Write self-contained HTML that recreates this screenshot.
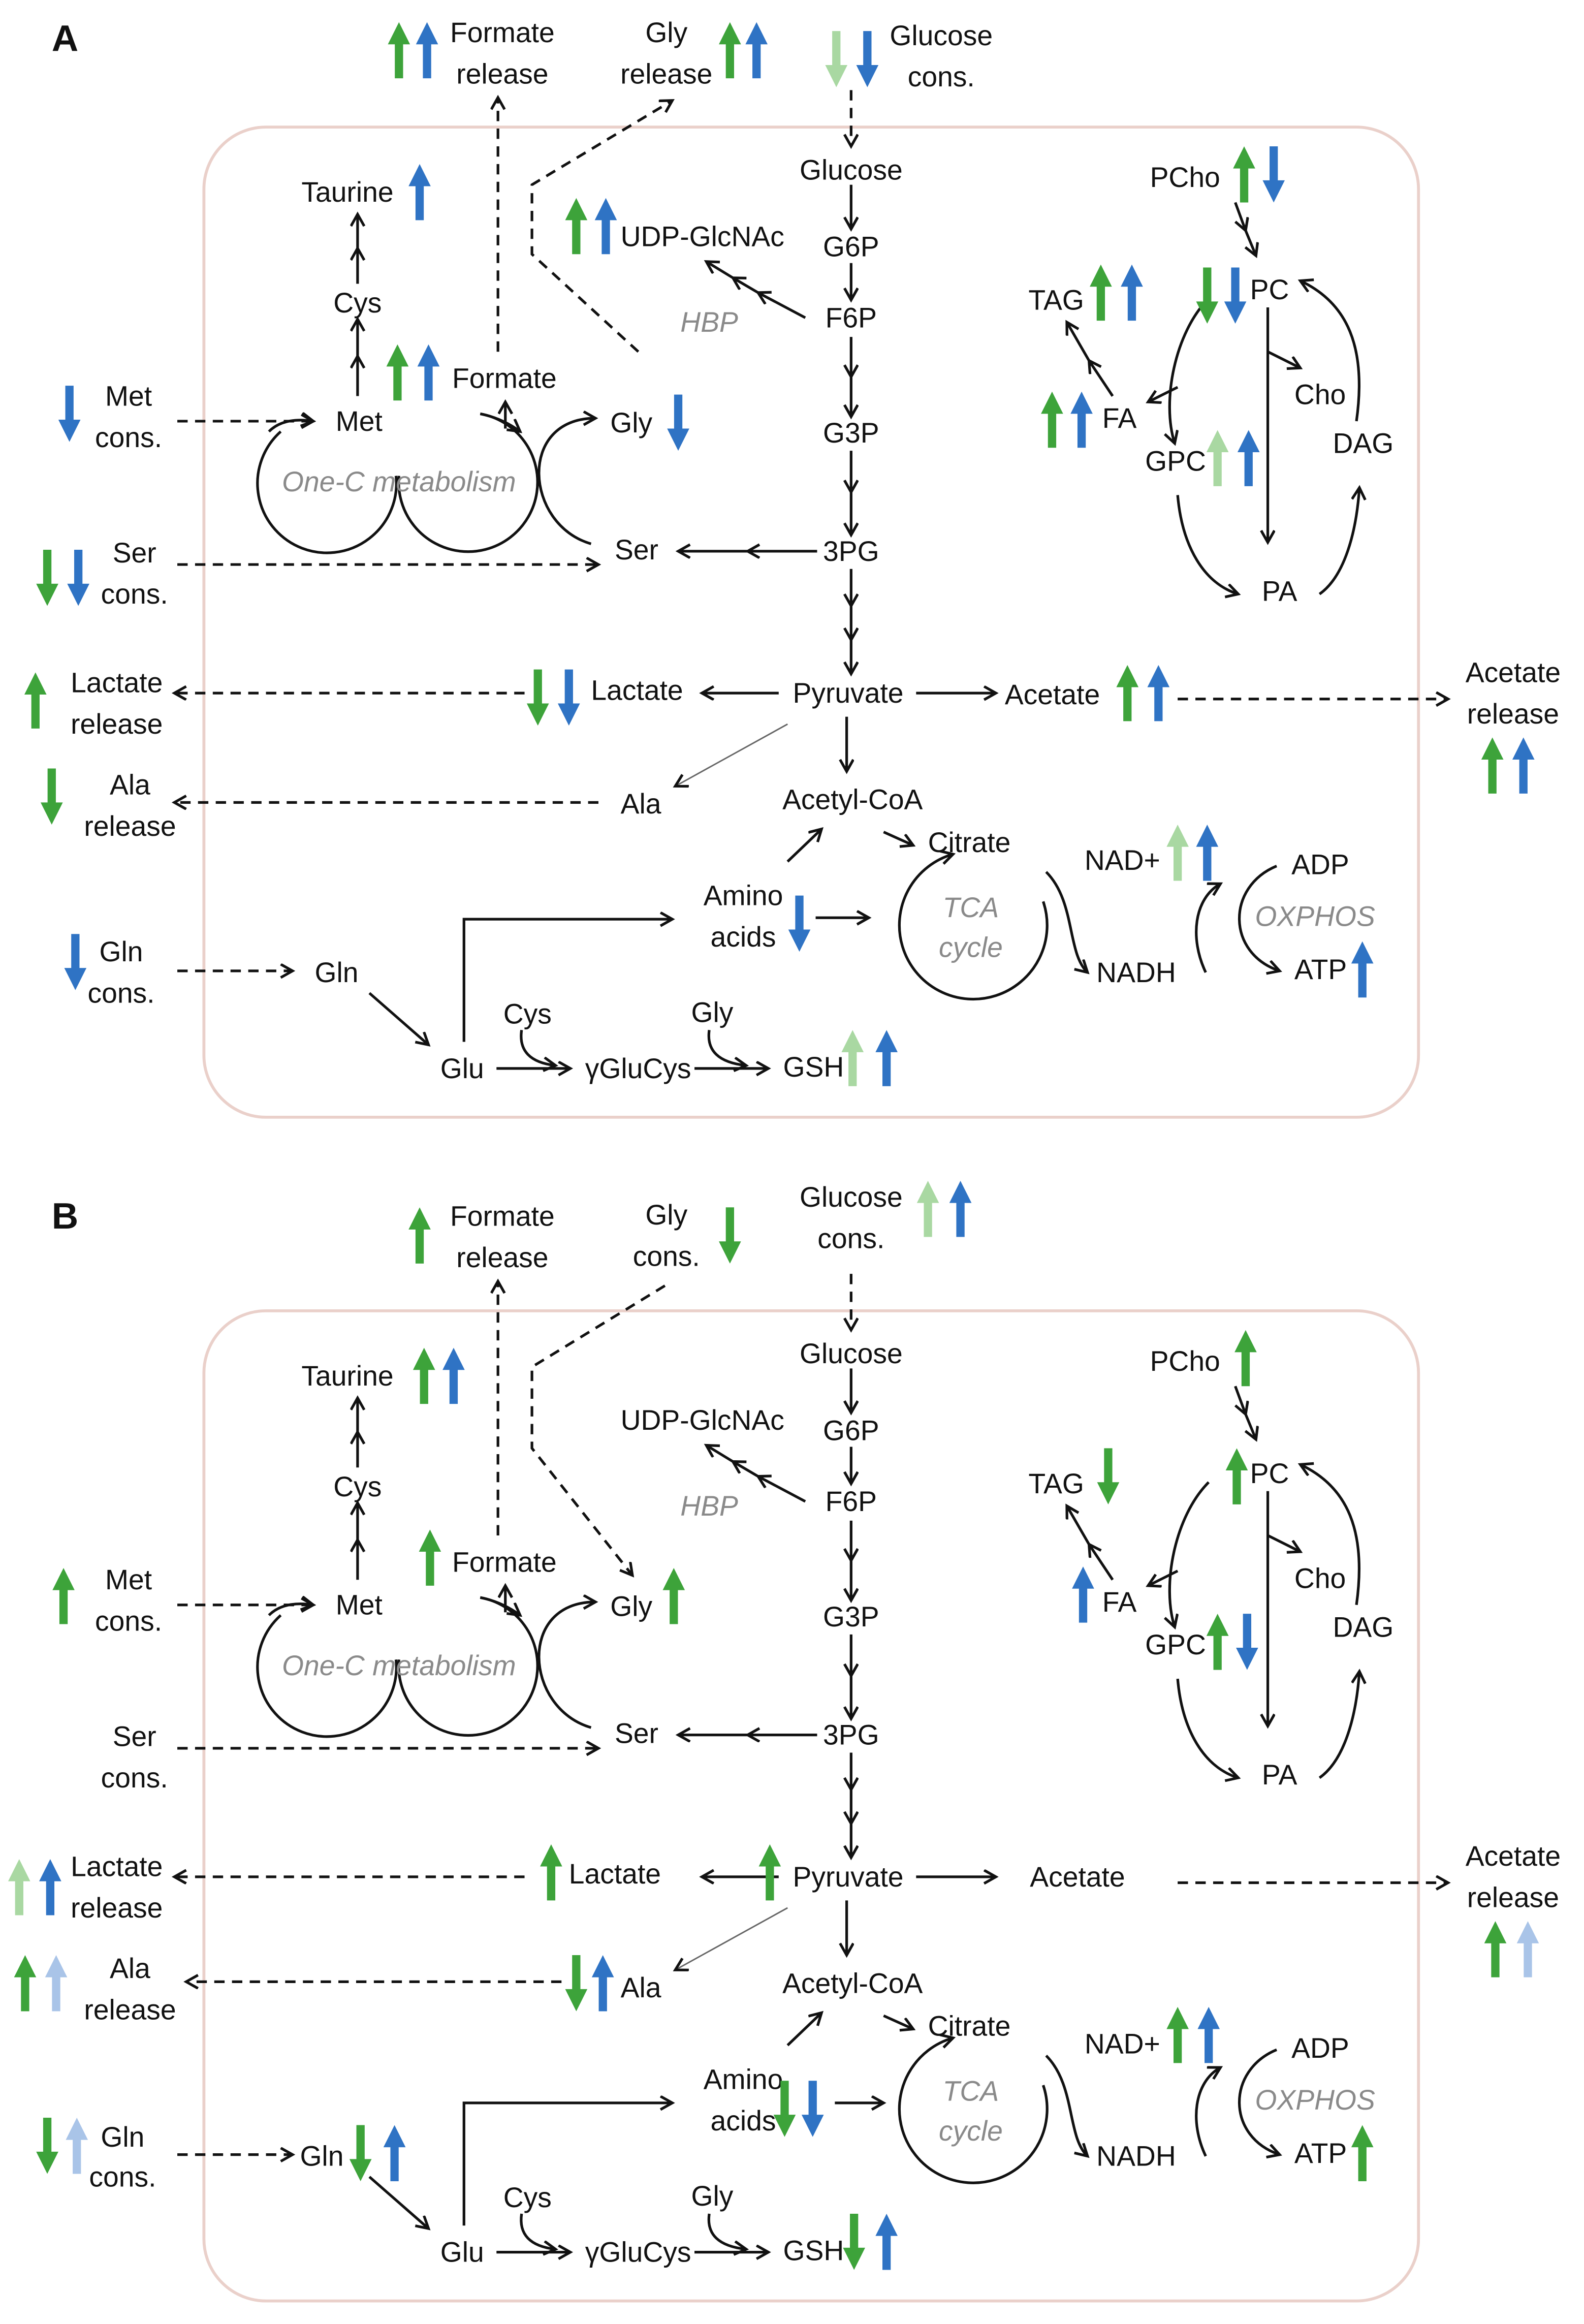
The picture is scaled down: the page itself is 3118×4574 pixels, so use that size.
<!DOCTYPE html>
<html><head><meta charset="utf-8"><style>
html,body{margin:0;padding:0;background:#fff}
svg{display:block}
text{font-family:"Liberation Sans",sans-serif;font-size:19px;fill:#111;dominant-baseline:central}
.c{text-anchor:middle}
.i{font-style:italic;fill:#8a8a8a}
.l{stroke:#111;stroke-width:1.8;fill:none;marker-end:url(#m)}
.d{stroke:#111;stroke-width:1.8;fill:none;stroke-dasharray:7 5;marker-end:url(#m)}
</style></head><body>
<svg width="3118" height="4574" viewBox="0 0 1072 1572.6" preserveAspectRatio="none" xmlns="http://www.w3.org/2000/svg" xmlns:xlink="http://www.w3.org/1999/xlink">
<defs>
<marker id="m" markerUnits="userSpaceOnUse" markerWidth="14" markerHeight="14" refX="9" refY="5" orient="auto"><path d="M1,0.5 L9,5 L1,9.5" fill="none" stroke="#111" stroke-width="1.8"/></marker>
<path id="u" d="M0,0 L7.5,15 L2.8,15 L2.8,38 L-2.8,38 L-2.8,15 L-7.5,15 Z"/>
<path id="w" d="M0,38 L7.5,23 L2.8,23 L2.8,0 L-2.8,0 L-2.8,23 L-7.5,23 Z"/>
</defs>
<g id="base">
<rect x="138" y="86" width="822" height="670" rx="42" fill="none" stroke="#ead0ca" stroke-width="2"/>
<text class="c" x="576" y="115">Glucose</text>
<text class="c" x="576" y="167">G6P</text>
<text class="c" x="576" y="215">F6P</text>
<text class="c" x="576" y="293">G3P</text>
<text class="c" x="576" y="373">3PG</text>
<text class="c" x="574" y="469">Pyruvate</text>
<text class="c" x="577" y="541">Acetyl-CoA</text>
<text x="628" y="570">Citrate</text>
<path class="l" d="M576,125 L576,155"/>
<path class="l" d="M576,178 L576,203"/>
<path class="l" d="M576,228 L576,255"/><path class="l" d="M576,255 L576,282"/>
<path class="l" d="M576,305 L576,333"/><path class="l" d="M576,333 L576,362"/>
<path class="l" d="M576,385 L576,410"/><path class="l" d="M576,410 L576,433"/><path class="l" d="M576,433 L576,456"/>
<path class="l" d="M545,215 L513,198"/><path class="l" d="M513,198 L496,188"/><path class="l" d="M496,188 L478,177"/>
<text x="420" y="160">UDP-GlcNAc</text>
<text class="i c" x="480" y="218">HBP</text>
<path class="l" d="M553,373 L506,373"/><path class="l" d="M506,373 L459,373"/>
<text x="416" y="372">Ser</text>
<text x="413" y="286">Gly</text>
<text x="204" y="130">Taurine</text>
<text class="c" x="242" y="205">Cys</text>
<text class="c" x="243" y="285">Met</text>
<path class="l" d="M242,268 L242,241"/><path class="l" d="M242,241 L242,216"/>
<path class="l" d="M242,192 L242,168"/><path class="l" d="M242,168 L242,145"/>
<text x="306" y="256">Formate</text>
<path d="M190,292 A47,47 0 1 0 268,322" fill="none" stroke="#111" stroke-width="1.8"/>
<path class="l" d="M182,292 Q192,282 212,285"/>
<path d="M270,322 A47,47 0 1 0 325,280" fill="none" stroke="#111" stroke-width="1.8"/>
<path class="l" d="M325,280 Q340,283 352,292"/>
<path class="l" d="M342,290 L342,272"/>
<path class="l" d="M400,368 C355,355 350,283 403,283"/>
<text class="i c" x="270" y="326">One-C metabolism</text>
<text class="c" x="87" y="268">Met</text><text class="c" x="87" y="296">cons.</text>
<text class="c" x="91" y="374">Ser</text><text class="c" x="91" y="402">cons.</text>
<text class="c" x="79" y="462">Lactate</text><text class="c" x="79" y="490">release</text>
<text class="c" x="88" y="531">Ala</text><text class="c" x="88" y="559">release</text>
<text class="c" x="1024" y="455">Acetate</text><text class="c" x="1024" y="483">release</text>
<text class="c" x="340" y="22">Formate</text><text class="c" x="340" y="50">release</text>
<path class="d" d="M120,285 L212,285"/>
<path class="d" d="M120,382 L405,382"/>
<path class="d" d="M355,469 L118,469"/>
<path class="d" d="M797,473 L980,473"/>
<path class="d" d="M120,657 L198,657"/>
<path class="d" d="M337,238 L337,66"/>
<path class="d" d="M576,61 L576,99"/>
<text x="420" y="544">Ala</text>
<path class="l" d="M527,469 L475,469"/>
<path class="l" d="M620,469 L674,469"/>
<path d="M533,490 L457,532" stroke="#666" stroke-width="1" fill="none" marker-end="url(#m)"/>
<path class="l" d="M573,485 L573,522"/>
<path class="l" d="M533,583 L556,561"/>
<path class="l" d="M598,563 L618,572"/>
<path class="l" d="M706,610 A50,50 0 1 1 645,578"/>
<text class="i c" x="657" y="614">TCA</text><text class="i c" x="657" y="641">cycle</text>
<path class="l" d="M708,590 C728,610 722,645 736,658"/>
<path class="l" d="M816,658 C805,635 808,608 826,598"/>
<path class="l" d="M864,586 C830,600 830,645 866,657"/>
<text x="734" y="582">NAD+</text>
<text x="742" y="658">NADH</text>
<text x="874" y="585">ADP</text>
<text class="i c" x="890" y="620">OXPHOS</text>
<text x="876" y="656">ATP</text>
<text x="503" y="606" class="c">Amino</text><text x="503" y="634" class="c">acids</text>
<text x="298" y="723">Glu</text>
<text x="396" y="723">γGluCys</text>
<text x="530" y="722">GSH</text>
<text class="c" x="357" y="686">Cys</text>
<text class="c" x="482" y="685">Gly</text>
<path class="l" d="M336,723 L386,723"/>
<path class="l" d="M470,723 L520,723"/>
<path class="l" d="M353,697 Q350,718 376,721"/>
<path class="l" d="M480,697 Q477,718 505,721"/>
<path class="l" d="M250,672 L290,707"/>
<path class="l" d="M314,705 L314,622 L455,622"/>
<text class="c" x="802" y="120">PCho</text>
<text x="846" y="196">PC</text>
<text x="696" y="203">TAG</text>
<text x="746" y="283">FA</text>
<text x="876" y="267">Cho</text>
<text x="902" y="300">DAG</text>
<text x="775" y="312">GPC</text>
<text x="854" y="400">PA</text>
<path class="l" d="M836,137 L843,156"/><path class="l" d="M843,156 L850,173"/>
<path class="l" d="M858,208 L858,367"/>
<path class="l" d="M858,238 L880,249"/>
<path class="l" d="M818,202 C795,225 786,272 795,300"/>
<path class="l" d="M797,262 L777,272"/>
<path class="l" d="M797,335 C800,370 815,395 838,402"/>
<path class="l" d="M893,402 C910,390 918,360 920,330"/>
<path class="l" d="M918,285 C925,235 912,205 880,190"/>
<path class="l" d="M753,268 L737,244"/><path class="l" d="M737,244 L722,218"/>
</g>
<use href="#base" xlink:href="#base" x="0" y="801"/>
<text x="35" y="26" style="font-weight:bold;font-size:25px">A</text>
<text class="c" x="451" y="22">Gly</text><text class="c" x="451" y="50">release</text>
<text class="c" x="637" y="24">Glucose</text><text class="c" x="637" y="52">cons.</text>
<path class="d" d="M432,238 L360,172 L360,125 L455,68"/>
<text x="400" y="467">Lactate</text>
<text x="680" y="470">Acetate</text>
<path class="d" d="M405,543 L118,543"/>
<text x="213" y="658">Gln</text>
<text class="c" x="82" y="644">Gln</text><text class="c" x="82" y="672">cons.</text>
<path class="l" d="M552,621 L588,621"/>
<g fill="#3da33a">
<use href="#u" x="270" y="15"/><use href="#u" x="494" y="15"/><use href="#u" x="390" y="134"/><use href="#u" x="269" y="233"/>
<use href="#w" x="32" y="372"/><use href="#u" x="24" y="455"/><use href="#w" x="364" y="453"/><use href="#u" x="763" y="450"/><use href="#u" x="1010" y="499"/>
<use href="#w" x="35" y="520"/><use href="#u" x="842" y="99"/><use href="#w" x="817" y="181"/><use href="#u" x="745" y="179"/><use href="#u" x="712" y="265"/>
</g>
<g fill="#2f73c4">
<use href="#u" x="289" y="15"/><use href="#u" x="512" y="15"/><use href="#w" x="587" y="21"/><use href="#u" x="284" y="111"/><use href="#u" x="410" y="134"/>
<use href="#u" x="290" y="233"/><use href="#w" x="47" y="261"/><use href="#w" x="459" y="267"/><use href="#w" x="53" y="372"/><use href="#w" x="385" y="453"/>
<use href="#u" x="784" y="450"/><use href="#u" x="1031" y="499"/><use href="#w" x="541" y="606"/><use href="#w" x="51" y="632"/><use href="#u" x="817" y="558"/>
<use href="#u" x="922" y="637"/><use href="#u" x="600" y="697"/><use href="#w" x="862" y="99"/><use href="#w" x="836" y="181"/><use href="#u" x="766" y="179"/>
<use href="#u" x="732" y="265"/><use href="#u" x="845" y="291"/>
</g>
<g fill="#a9d8a2">
<use href="#w" x="566" y="21"/><use href="#u" x="797" y="558"/><use href="#u" x="577" y="697"/><use href="#u" x="824" y="291"/>
</g>
<text x="35" y="823" style="font-weight:bold;font-size:25px">B</text>
<text class="c" x="451" y="822">Gly</text><text class="c" x="451" y="850">cons.</text>
<text class="c" x="576" y="810">Glucose</text><text class="c" x="576" y="838">cons.</text>
<path class="d" d="M450,870 L360,925 L360,980 L428,1066"/>
<text x="385" y="1268">Lactate</text>
<text x="697" y="1270">Acetate</text>
<path class="d" d="M380,1341 L126,1341"/>
<text x="203" y="1459">Gln</text>
<text class="c" x="83" y="1446">Gln</text><text class="c" x="83" y="1473">cons.</text>
<path class="l" d="M565,1423 L598,1423"/>
<g fill="#3da33a">
<use href="#u" x="284" y="817"/><use href="#w" x="494" y="817"/><use href="#u" x="287" y="912"/><use href="#u" x="291" y="1035"/>
<use href="#u" x="43" y="1061"/><use href="#u" x="456" y="1061"/><use href="#u" x="373" y="1248"/><use href="#u" x="521" y="1248"/>
<use href="#u" x="1012" y="1300"/><use href="#u" x="17" y="1323"/><use href="#w" x="390" y="1323"/><use href="#w" x="531" y="1408"/>
<use href="#u" x="797" y="1358"/><use href="#u" x="922" y="1438"/><use href="#w" x="32" y="1433"/><use href="#w" x="244" y="1438"/>
<use href="#w" x="578" y="1498"/><use href="#u" x="843" y="900"/><use href="#u" x="837" y="980"/><use href="#w" x="750" y="980"/><use href="#u" x="824" y="1092"/>
</g>
<g fill="#2f73c4">
<use href="#u" x="650" y="799"/><use href="#u" x="307" y="912"/><use href="#u" x="34" y="1258"/><use href="#u" x="408" y="1323"/>
<use href="#w" x="550" y="1408"/><use href="#u" x="818" y="1358"/><use href="#u" x="267" y="1438"/><use href="#u" x="600" y="1498"/>
<use href="#u" x="733" y="1060"/><use href="#w" x="844" y="1092"/>
</g>
<g fill="#a9d8a2"><use href="#u" x="628" y="799"/><use href="#u" x="13" y="1258"/></g>
<g fill="#a9c4e8"><use href="#u" x="1034" y="1300"/><use href="#u" x="38" y="1323"/><use href="#u" x="52" y="1433"/></g>
</svg>
</body></html>
